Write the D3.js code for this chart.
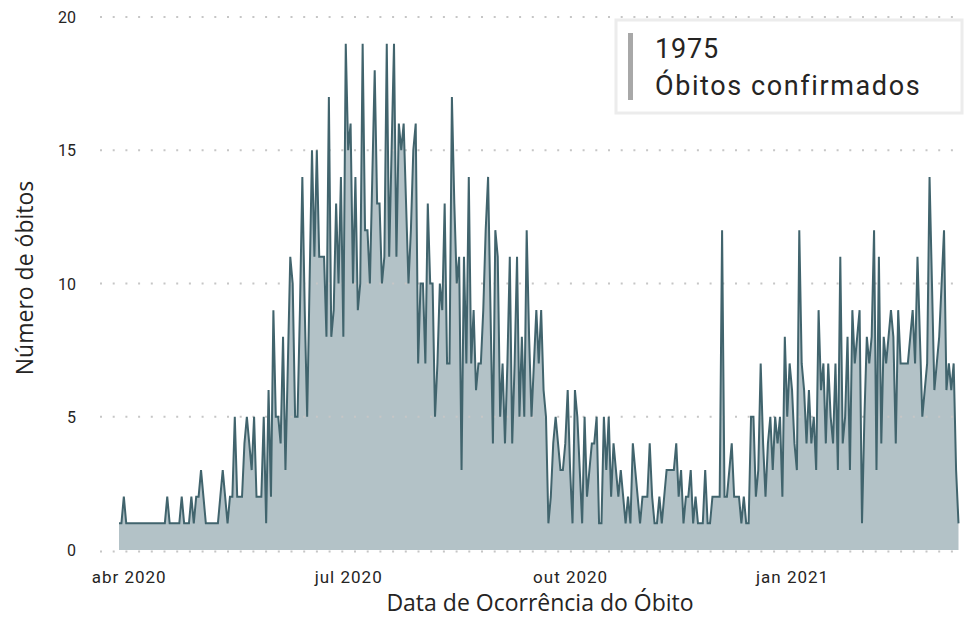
<!DOCTYPE html>
<html>
<head>
<meta charset="utf-8">
<script src="https://cdn.jsdelivr.net/npm/d3@7"></script>
<style>
  html, body { margin: 0; padding: 0; background: #ffffff; }
  svg { display: block; }
</style>
</head>
<body>
<svg id="chart" width="965" height="618"></svg>
<script>
// ---- data ----
const startDate = "2020-03-28";
const dailyDeaths = [
  1,1,2,1,1,1,1,1,1,1,1,1,1,1,1,1,1,1,1,1,
  2,1,1,1,1,1,2,1,1,1,
  2,1,2,2,3,2,1,1,1,1,
  1,1,2,3,2,1,2,2,5,2,
  2,2,4,5,4,3,5,2,2,2,
  5,1,6,2,9,5,5,4,8,3,
  7,11,10,5,5,9,14,9,5,10,
  15,11,15,11,11,11,8,17,8,9,
  13,10,14,8,19,15,16,10,14,9,
  10,19,12,12,10,14,18,13,13,10,
  11,19,11,15,19,11,16,15,16,13,
  10,12,15,16,7,10,10,7,13,10,
  10,5,7,10,9,13,7,7,17,13,
  10,11,3,11,7,14,7,9,6,7,
  7,9,12,14,9,4,12,11,5,7,
  4,7,11,4,7,11,5,8,5,12,
  8,5,7,9,7,9,6,5,1,2,
  4,5,4,3,3,4,6,3,1,6,
  5,3,1,5,2,3,4,4,5,1,
  1,5,3,5,2,4,3,2,3,2,
  1,2,1,4,3,2,1,2,2,2,
  4,2,1,1,2,1,2,3,3,3,
  3,4,2,3,1,2,2,3,1,2,
  1,1,1,3,1,1,2,2,2,2,
  12,2,2,3,4,2,2,2,1,2,
  1,1,5,5,2,3,7,4,2,4,
  5,3,5,4,5,2,8,5,7,6,
  4,3,12,7,6,4,6,4,5,3,
  9,6,7,4,7,5,4,7,3,11,
  4,5,8,3,9,7,8,9,1,5,
  8,7,8,12,3,11,4,8,7,8,
  9,8,4,9,7,7,7,7,8,9,
  7,11,8,5,6,7,14,10,6,7,
  8,10,12,6,7,6,7,3,1
];
const yTicks = [0, 5, 10, 15, 20];
const totalLabel = "1975";
const cardLabel = "Óbitos confirmados";
const xTitle = "Data de Ocorrência do Óbito";
const yTitle = "Número de óbitos";
const monthNames = ["jan","fev","mar","abr","mai","jun","jul","ago","set","out","nov","dez"];

// ---- build ----
(function () {
const parse = d3.utcParse("%Y-%m-%d");
const t0 = parse(startDate);
const data = dailyDeaths.map((v, i) => ({ date: d3.utcDay.offset(t0, i), value: v }));

const svg = d3.select("#chart");
const plotLeft = 119, plotRight = 958.5, plotTop = 17, plotBottom = 550;

const x = d3.scaleUtc()
  .domain([data[0].date, data[data.length - 1].date])
  .range([plotLeft, plotRight]);
const y = d3.scaleLinear().domain([0, 20]).range([plotBottom, plotTop]);

const axisFont = "Roboto, 'DejaVu Sans', sans-serif";
const titleFont = "'Open Sans', 'Noto Sans', sans-serif";
const textColor = "#252423";

// area
svg.append("path")
  .datum(data)
  .attr("fill", "#b3c2c7")
  .attr("d", d3.area().x(d => x(d.date)).y0(y(0)).y1(d => y(d.value)));

// gridlines (dotted), over the fill
const grid = svg.append("g");
grid.selectAll("line").data(yTicks).join("line")
  .attr("x1", 100).attr("x2", 962)
  .attr("y1", d => y(d) + (d === 0 ? 1.5 : 0))
  .attr("y2", d => y(d) + (d === 0 ? 1.5 : 0))
  .attr("stroke", "#c6c6c6")
  .attr("stroke-width", 2)
  .attr("stroke-dasharray", "2 10.7");

// line
svg.append("path")
  .datum(data)
  .attr("fill", "none")
  .attr("stroke", "#41646d")
  .attr("stroke-width", 2)
  .attr("stroke-linejoin", "miter")
  .attr("d", d3.line().x(d => x(d.date)).y(d => y(d.value)));

// y axis
const yAxis = d3.axisLeft(y).tickValues(yTicks).tickSize(0).tickPadding(0);
const gy = svg.append("g").attr("transform", "translate(76,0)").call(yAxis);
gy.select(".domain").remove();
gy.selectAll("text")
  .attr("font-family", axisFont).attr("font-size", 16)
  .attr("fill", textColor).attr("dy", "0.35em");

// x axis
const xAxis = d3.axisBottom(x)
  .ticks(d3.utcMonth.every(3))
  .tickSize(0).tickPadding(0)
  .tickFormat(d => monthNames[d.getUTCMonth()] + " " + d.getUTCFullYear());
const gx = svg.append("g").attr("transform", "translate(0,569)").call(xAxis);
gx.select(".domain").remove();
gx.selectAll("text")
  .attr("font-family", axisFont).attr("font-size", 17)
  .attr("letter-spacing", "1px")
  .attr("fill", textColor).attr("dy", "0.8em");

// axis titles
svg.append("text")
  .attr("x", 540).attr("y", 611)
  .attr("text-anchor", "middle")
  .attr("font-family", titleFont).attr("font-size", 23)
  .attr("fill", textColor)
  .text(xTitle);

svg.append("text")
  .attr("transform", "translate(33,278) rotate(-90)")
  .attr("text-anchor", "middle")
  .attr("font-family", titleFont).attr("font-size", 23)
  .attr("fill", textColor)
  .text(yTitle);

// card
const card = svg.append("g");
card.append("rect")
  .attr("x", 616).attr("y", 20).attr("width", 346).attr("height", 93)
  .attr("fill", "#ffffff").attr("stroke", "#ececec").attr("stroke-width", 3);
card.append("rect")
  .attr("x", 628).attr("y", 33).attr("width", 5).attr("height", 67)
  .attr("fill", "#a8a8a8");
card.append("text")
  .attr("x", 655).attr("y", 58)
  .attr("font-family", axisFont).attr("font-size", 27)
  .attr("letter-spacing", "0.8px")
  .attr("fill", textColor).text(totalLabel);
card.append("text")
  .attr("x", 655).attr("y", 95)
  .attr("font-family", axisFont).attr("font-size", 27)
  .attr("letter-spacing", "1.6px")
  .attr("fill", textColor).text(cardLabel);
})();
</script>
</body>
</html>
